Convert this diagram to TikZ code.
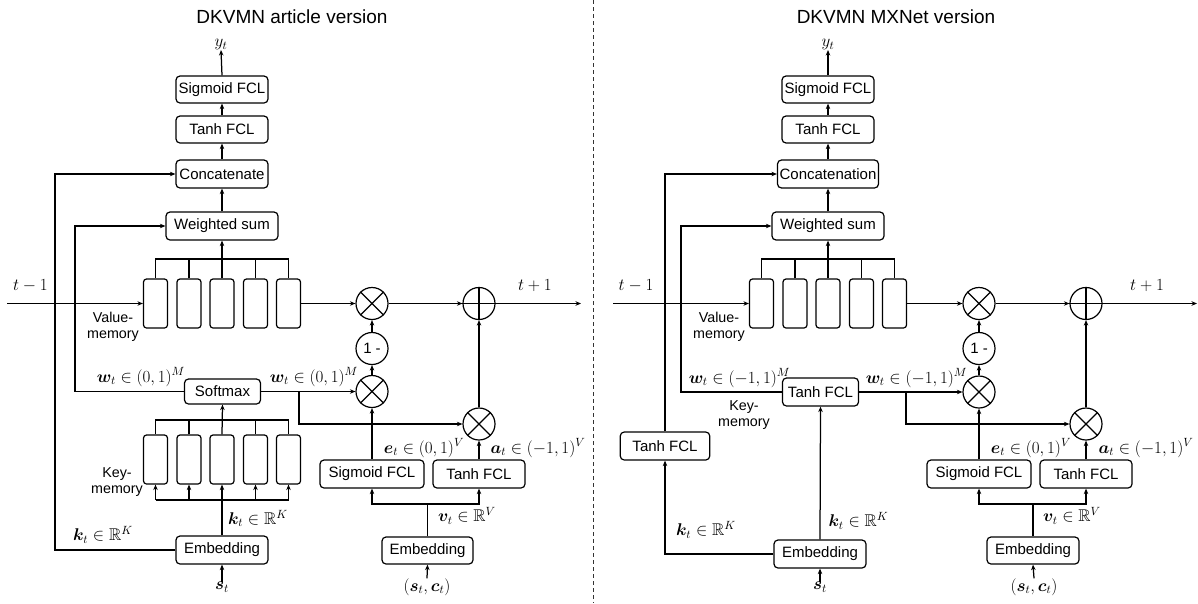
\RequirePackage{fix-cm}
\documentclass[tikz,border=0pt]{standalone}
\usepackage{amsmath,amssymb,bm}
\usepackage[no-math]{fontspec}
\newfontfamily\labelfont{Liberation Sans}
\usetikzlibrary{arrows.meta}

\tikzset{
  wire/.style={line width=1.25pt},
  conn/.style={line width=1.25pt, -{Stealth[length=5.5pt,width=4.5pt]}},
  box/.style={draw, line width=1.2pt, rounded corners=4pt, inner sep=0pt,
    minimum height=27pt, font=\labelfont\fontsize{15}{17}\selectfont},
  cell/.style={draw, line width=1.2pt, rounded corners=3pt, inner sep=0pt,
    minimum width=24pt, minimum height=49pt},
  op/.style={draw, circle, line width=1.2pt, inner sep=0pt, minimum size=32pt,
    font=\labelfont\fontsize{15}{17}\selectfont},
  lbl/.style={inner sep=0pt, align=center, font=\labelfont\fontsize{14.3}{15.5}\selectfont},
  mlbl/.style={inner sep=0pt, font=\fontsize{17}{20}\selectfont},
  heading/.style={inner sep=0pt, font=\labelfont\fontsize{19}{22}\selectfont},
  sep/.style={line width=1pt, dash pattern=on 4pt off 3pt, draw=black!80},
}

% circle with a diagonal cross (element-wise product)
\newcommand{\timesmark}[1]{\draw[wire] (#1.north east) -- (#1.south west) (#1.north west) -- (#1.south east);}
% circle with an upright cross (sum)
\newcommand{\plusmark}[1]{\draw[wire] (#1.north) -- (#1.south) (#1.west) -- (#1.east);}

\begin{document}
\begin{tikzpicture}[x=1pt, y=-1pt]
\useasboundingbox (0,0) rectangle (1198,603);

% ---------------- separator ----------------
\coordinate (sepTop) at (593,0);
\coordinate (sepBot) at (593,603);
\draw[sep] (sepTop) -- (sepBot);

% =============== article version ===============
\node[heading] (titleL) at (292,17) {DKVMN article version};

\node[mlbl] (yL) at (221,44.5) {$y_t$};
\node[box, minimum width=92pt] (sigL) at (222,89.5) {Sigmoid FCL};
\node[box, minimum width=92pt] (tanhL) at (222,129.5) {Tanh FCL};
\node[box, minimum width=92pt, minimum height=28pt] (catL) at (222,174) {Concatenate};
\node[box, minimum width=112pt, minimum height=28pt] (wsL) at (222,226) {Weighted sum};

\draw[conn] (sigL.north) -- (yL.south);
\draw[conn] (tanhL.north) -- (sigL.south);
\draw[conn] (catL.north) -- (tanhL.south);
\draw[conn] (wsL.north) -- (catL.south);

% value memory
\foreach \i/\x in {1/155.5,2/189,3/222,4/255.5,5/288.5}
  \node[cell] (vL\i) at (\x,303.5) {};
\coordinate (vbarL) at (222,259);
\draw[wire] (vL1.north) |- (vbarL) -| (vL5.north);
\foreach \i in {2,4} \draw[wire] (vL\i.north) -- (vL\i.north |- vbarL);
\draw[conn] (vL3.north) -- (wsL.south);
\node[lbl] (vmL) at (113,327) {Value-\\memory};

\coordinate (inL) at (7,303.5);
\draw[conn] (inL) -- (vL1.west);
\node[mlbl] (tmL) at (30.5,286) {$t-1$};

\node[op] (m1L) at (372,303.5) {};
\timesmark{m1L}
\node[op] (pL) at (479,303.5) {};
\plusmark{pL}
\coordinate (outL) at (581,303.5);
\draw[conn] (vL5.east) -- (m1L.west);
\draw[conn] (m1L.east) -- (pL.west);
\draw[conn] (pL.east) -- (outL);
\node[mlbl] (tpL) at (535,286) {$t+1$};

\node[op] (oneL) at (372,348.5) {1 -};
\node[op] (m2L) at (372,391.5) {};
\timesmark{m2L}
\draw[conn] (oneL.north) -- (m1L.south);
\draw[conn] (m2L.north) -- (oneL.south);

\node[box, minimum width=76pt, minimum height=25pt] (smL) at (222.5,391.5) {Softmax};
\draw[conn] (smL.east) -- (m2L.west);
\node[mlbl] (wlL) at (141,377) {$\bm{w}_t\in(0,1)^M$};
\node[mlbl] (wrL) at (314,377) {$\bm{w}_t\in(0,1)^M$};

\node[op] (m3L) at (479,424) {};
\timesmark{m3L}
\coordinate (brL) at (299,391.5);
\draw[conn] (brL) |- (m3L.west);
\draw[conn] (m3L.north) -- (pL.south);

\node[box, minimum width=104pt, minimum height=28pt] (sig2L) at (372,474) {Sigmoid FCL};
\node[box, minimum width=92pt, minimum height=28pt] (tanh2L) at (479,474) {Tanh FCL};
\draw[conn] (sig2L.north) -- (m2L.south);
\draw[conn] (tanh2L.north) -- (m3L.south);
\node[mlbl] (eL) at (424,448) {$\bm{e}_t\in(0,1)^V$};
\node[mlbl] (aL) at (538,448) {$\bm{a}_t\in(-1,1)^V$};

\node[box, minimum width=91pt] (emb2L) at (427.5,550.5) {Embedding};
\coordinate (spL) at (427.5,504);
\draw[wire] (emb2L.north) -- (spL);
\draw[conn] (spL) -| (sig2L.south);
\draw[conn] (spL) -| (tanh2L.south);
\node[mlbl] (vL) at (467,516) {$\bm{v}_t\in\mathbb{R}^V$};
\node[mlbl] (scL) at (427,587) {$(\bm{s}_t,\bm{c}_t)$};
\draw[conn] (scL.north) -- (emb2L.south);

% key memory
\foreach \i/\x in {1/155.5,2/189,3/222,4/255.5,5/288.5}
  \node[cell] (kL\i) at (\x,459.5) {};
\coordinate (kbarL) at (222,420);
\draw[wire] (kL1.north) |- (kbarL) -| (kL5.north);
\foreach \i in {2,4} \draw[wire] (kL\i.north) -- (kL\i.north |- kbarL);
\draw[conn] (kL3.north) -- (smL.south);
\node[lbl] (kmL) at (117,482) {Key-\\memory};

\node[box, minimum width=92pt, minimum height=28pt] (embL) at (222,550) {Embedding};
\node[mlbl] (stL) at (222,587) {$\bm{s}_t$};
\draw[conn] (stL.north) -- (embL.south);
\coordinate (kbotL) at (222,500);
\draw[wire] (embL.north) -- (kbotL);
\draw[wire] (kbotL -| kL1.south) -- (kbotL -| kL5.south);
\foreach \i in {1,...,5} \draw[conn] (kbotL -| kL\i.south) -- (kL\i.south);
\node[mlbl] (kcL) at (258,518.5) {$\bm{k}_t\in\mathbb{R}^K$};
\node[mlbl] (klL) at (103,535) {$\bm{k}_t\in\mathbb{R}^K$};

% feedback lines on the left
\coordinate (kxL) at (55,550);
\draw[conn] (embL.west) -- (embL.west -| kxL) |- (catL.west);
\coordinate (wxL) at (75,391.5);
\draw[conn] (smL.west) -- (smL.west -| wxL) |- (wsL.west);

% =============== MXNet version ===============
\node[heading] (titleR) at (896,17) {DKVMN MXNet version};

\node[mlbl] (yR) at (828,44.5) {$y_t$};
\node[box, minimum width=92pt] (sigR) at (828,89.5) {Sigmoid FCL};
\node[box, minimum width=92pt] (tanhR) at (828,129.5) {Tanh FCL};
\node[box, minimum width=101pt, minimum height=28pt] (catR) at (828,174) {Concatenation};
\node[box, minimum width=112pt, minimum height=28pt] (wsR) at (828,226) {Weighted sum};

\draw[conn] (sigR.north) -- (yR.south);
\draw[conn] (tanhR.north) -- (sigR.south);
\draw[conn] (catR.north) -- (tanhR.south);
\draw[conn] (wsR.north) -- (catR.south);

\foreach \i/\x in {1/761.5,2/795,3/828,4/861.5,5/894.5}
  \node[cell] (vR\i) at (\x,303.5) {};
\coordinate (vbarR) at (828,259);
\draw[wire] (vR1.north) |- (vbarR) -| (vR5.north);
\foreach \i in {2,4} \draw[wire] (vR\i.north) -- (vR\i.north |- vbarR);
\draw[conn] (vR3.north) -- (wsR.south);
\node[lbl] (vmR) at (719,327) {Value-\\memory};

\coordinate (inR) at (613,303.5);
\draw[conn] (inR) -- (vR1.west);
\node[mlbl] (tmR) at (636,286) {$t-1$};

\node[op] (m1R) at (979,303.5) {};
\timesmark{m1R}
\node[op] (pR) at (1086,303.5) {};
\plusmark{pR}
\coordinate (outR) at (1197,303.5);
\draw[conn] (vR5.east) -- (m1R.west);
\draw[conn] (m1R.east) -- (pR.west);
\draw[conn] (pR.east) -- (outR);
\node[mlbl] (tpR) at (1147,286) {$t+1$};

\node[op] (oneR) at (979,348.5) {1 -};
\node[op] (m2R) at (979,392) {};
\timesmark{m2R}
\draw[conn] (oneR.north) -- (m1R.south);
\draw[conn] (m2R.north) -- (oneR.south);

\node[box, minimum width=76pt, minimum height=28pt] (tanhKR) at (820.5,392) {Tanh FCL};
\draw[conn] (tanhKR.east) -- (m2R.west);
\node[mlbl] (wlR) at (739.5,378) {$\bm{w}_t\in(-1,1)^M$};
\node[mlbl] (wrR) at (916.5,378) {$\bm{w}_t\in(-1,1)^M$};
\node[lbl] (kmR) at (744,415) {Key-\\memory};

\node[op] (m3R) at (1086,424) {};
\timesmark{m3R}
\coordinate (brR) at (906,392);
\draw[conn] (brR) |- (m3R.west);
\draw[conn] (m3R.north) -- (pR.south);

\node[box, minimum width=104pt, minimum height=28pt] (sig2R) at (979,474) {Sigmoid FCL};
\node[box, minimum width=92pt, minimum height=28pt] (tanh2R) at (1086,474) {Tanh FCL};
\draw[conn] (sig2R.north) -- (m2R.south);
\draw[conn] (tanh2R.north) -- (m3R.south);
\node[mlbl] (eR) at (1031,448) {$\bm{e}_t\in(0,1)^V$};
\node[mlbl] (aR) at (1146,448) {$\bm{a}_t\in(-1,1)^V$};

\node[box, minimum width=92pt] (emb2R) at (1033,550.5) {Embedding};
\coordinate (spR) at (1033,504);
\draw[wire] (emb2R.north) -- (spR);
\draw[conn] (spR) -| (sig2R.south);
\draw[conn] (spR) -| (tanh2R.south);
\node[mlbl] (vR) at (1072,516) {$\bm{v}_t\in\mathbb{R}^V$};
\node[mlbl] (scR) at (1034,587) {$(\bm{s}_t,\bm{c}_t)$};
\draw[conn] (scR.north) -- (emb2R.south);

\node[box, minimum width=89.5pt, minimum height=28pt] (tanhLR) at (665,446) {Tanh FCL};
\node[box, minimum width=92pt, minimum height=28pt] (embR) at (820,554) {Embedding};
\node[mlbl] (stR) at (820,587) {$\bm{s}_t$};
\draw[conn] (stR.north) -- (embR.south);
\draw[conn] (embR.north) -- (tanhKR.south);
\draw[conn] (embR.west) -| (tanhLR.south);
\draw[conn] (tanhLR.north) |- (catR.west);
\node[mlbl] (kcR) at (858.5,521) {$\bm{k}_t\in\mathbb{R}^K$};
\node[mlbl] (klR) at (706,530) {$\bm{k}_t\in\mathbb{R}^K$};

\coordinate (wxR) at (681,392);
\draw[conn] (tanhKR.west) -- (tanhKR.west -| wxR) |- (wsR.west);

\end{tikzpicture}
\end{document}
